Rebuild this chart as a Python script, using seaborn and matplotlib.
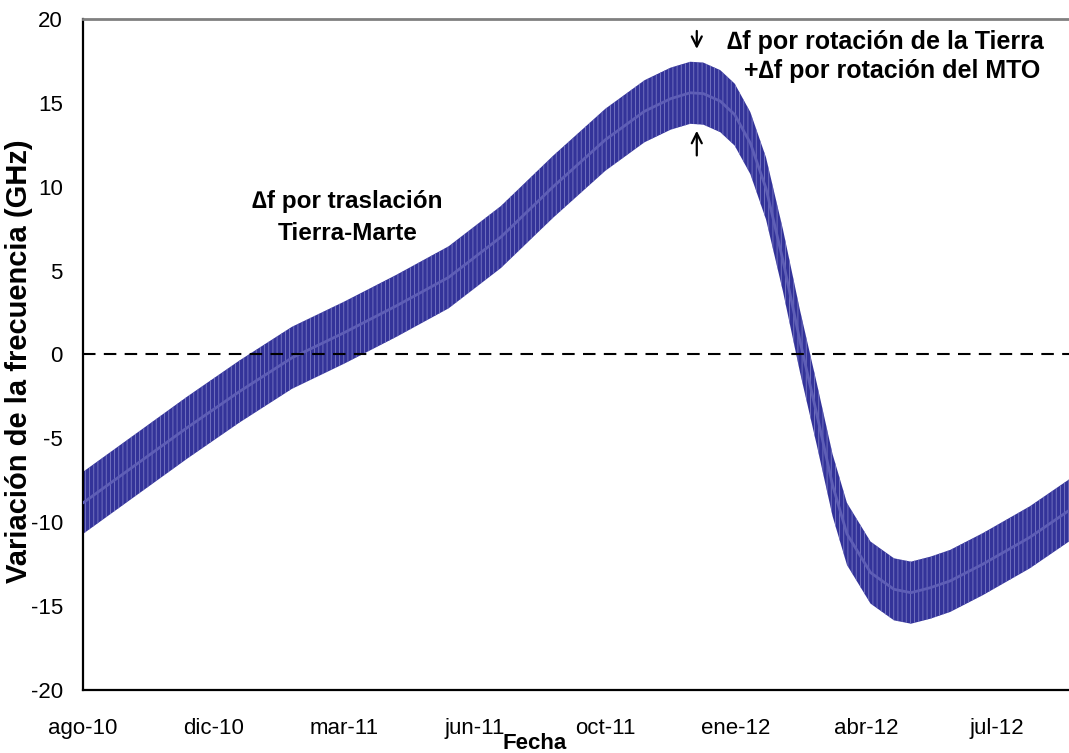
import pandas as pd
import numpy as np
import seaborn as sns
import matplotlib.pyplot as plt

# dias desde ago-10 (eje de fechas de Excel, cada 100 dias)
dias = [0, 40, 80, 120, 160, 200, 240, 280, 320, 360, 400, 430, 450, 465, 475,
        488, 499, 511, 523, 536, 549, 562, 574, 585, 603, 621, 634, 649, 664, 689, 725, 755]
centro = [-8.85, -6.6, -4.35, -2.2, -0.2, 1.3, 2.9, 4.6, 7.0, 10.0, 12.8, 14.5, 15.25, 15.6, 15.55,
          15.1, 14.3, 12.6, 9.9, 5.6, 0.8, -3.6, -7.8, -10.7, -13.0, -14.0, -14.2, -13.9, -13.5,
          -12.5, -10.9, -9.3]
ancho = 1.85  # semiancho de la oscilacion por rotacion (GHz)

ticks_dias = [0, 100, 200, 300, 400, 500, 600, 700]
ticks_txt = ["ago-10", "dic-10", "mar-11", "jun-11", "oct-11", "ene-12", "abr-12", "jul-12"]

df = pd.DataFrame({"dia": dias, "centro": centro})
df["sup"] = df["centro"] + ancho
df["inf"] = df["centro"] - ancho

sns.set_style("white")
plt.rcParams['font.family'] = ['Liberation Sans', 'DejaVu Sans']
plt.rcParams['hatch.linewidth'] = 0.6
plt.rcParams['axes.unicode_minus'] = False
plt.rcParams['text.color'] = 'black'

fig = plt.figure(figsize=(10.69, 7.53), dpi=100)
ax = fig.add_axes([0.0776, 0.0837, 0.9224, 0.8911])

ax.fill_between(df["dia"], df["inf"], df["sup"], facecolor="#333399",
                edgecolor="#7a7ac4", hatch="||||", linewidth=0, zorder=2)
sns.lineplot(data=df, x="dia", y="centro", color="#5e5eb6", lw=2, ax=ax, zorder=3)

ax.axhline(0, color="black", ls=(0, (6, 4)), lw=1.5, zorder=4)

ax.set_xlim(0, 755)
ax.set_ylim(-20, 20)
ax.set_yticks(range(-20, 21, 5))
ax.set_xticks(ticks_dias)
ax.set_xticklabels(ticks_txt)
ax.tick_params(axis="both", direction="inout", length=9, width=1, colors="#555555",
               labelcolor="black", labelsize=16)
ax.tick_params(axis="x", pad=16)
ax.tick_params(axis="y", pad=10)

ax.spines["left"].set_color("black")
ax.spines["left"].set_linewidth(1.6)
ax.spines["bottom"].set_color("black")
ax.spines["bottom"].set_linewidth(1.6)
ax.spines["top"].set_color("#808080")
ax.spines["top"].set_linewidth(2)
ax.spines["right"].set_visible(False)

ax.set_xlabel("Fecha", fontsize=16, fontweight="bold", color="black")
ax.set_ylabel("Variación de la frecuencia (GHz)", fontsize=21, fontweight="bold", color="black")
ax.xaxis.set_label_coords(0.458, -0.064)
ax.yaxis.set_label_coords(-0.051, 0.49)

ax.text(202.5, 9.12, "∆f por traslación", fontsize=17.5, fontweight="bold", ha="center", va="center")
ax.text(202.5, 7.24, "Tierra-Marte", fontsize=17.5, fontweight="bold", ha="center", va="center")
ax.text(493, 18.6, "∆f por rotación de la Tierra", fontsize=18, fontweight="bold",
        ha="left", va="center")
ax.text(506, 16.9, "+∆f por rotación del MTO", fontsize=18, fontweight="bold",
        ha="left", va="center")

ax.annotate("", xy=(470, 18.05), xytext=(470, 19.45),
            arrowprops=dict(arrowstyle="->", color="black", lw=1.6, mutation_scale=18))
ax.annotate("", xy=(470, 13.5), xytext=(470, 11.7),
            arrowprops=dict(arrowstyle="->", color="black", lw=1.6, mutation_scale=18))

fig.savefig("out.png", dpi=100)
